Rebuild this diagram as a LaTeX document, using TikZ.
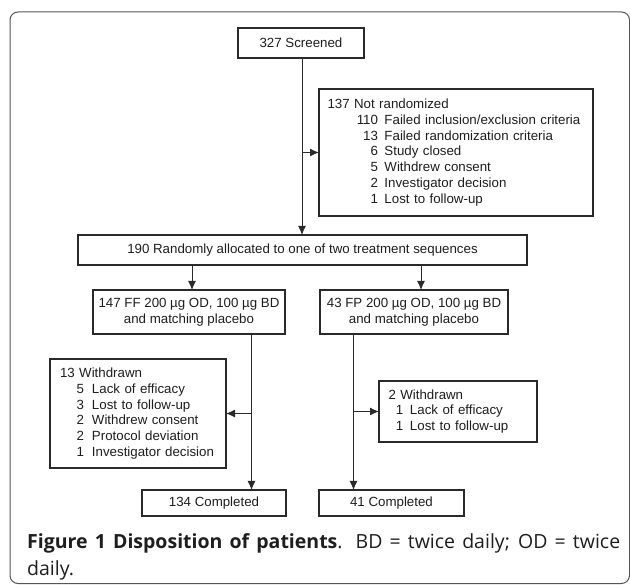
\documentclass[tikz,border=0pt]{standalone}
\usepackage{fontspec}
\setmainfont{Liberation Sans}
\newfontfamily\capfont{Open Sans}
\usetikzlibrary{arrows.meta}
\definecolor{linec}{HTML}{2A2A2A}
\definecolor{textc}{HTML}{1E1E1E}
\definecolor{framec}{HTML}{555555}
\newcommand{\dfont}{\fontsize{13.3}{15.8}\selectfont}
\newcommand{\nrline}[4]{\makebox[#1][r]{#3}\hspace{#2}#4}
\tikzset{
  box/.style={draw=linec, line width=1.1pt, inner sep=0pt, outer sep=0pt, font=\dfont, text=textc},
  listbox/.style={box, anchor=north west, align=left},
  arr/.style={draw=linec, line width=1pt, -{Latex[length=9pt,width=8pt]}},
  framebox/.style={draw=framec, line width=1pt, rounded corners=8pt}
}
\begin{document}
\begin{tikzpicture}[x=1pt, y=-1pt]
\useasboundingbox (0,0) rectangle (630,585);
\fill[white] (0,0) rectangle (630,585);
\draw[framebox] (10,12) rectangle (629.5,583.5);

\node[box, minimum width=126pt, minimum height=30pt] (scr) at (301,43) {327 Screened};

\node[listbox, text width=257pt, inner xsep=8.5pt, minimum height=127pt] (nr) at (319,89) {%
137 Not randomized\\
\nrline{50.5pt}{6.5pt}{110}{Failed inclusion/exclusion criteria}\\
\nrline{50.5pt}{6.5pt}{13}{Failed randomization criteria}\\
\nrline{50.5pt}{6.5pt}{6}{Study closed}\\
\nrline{50.5pt}{6.5pt}{5}{Withdrew consent}\\
\nrline{50.5pt}{6.5pt}{2}{Investigator decision}\\
\nrline{50.5pt}{6.5pt}{1}{Lost to follow-up}};

\node[box, minimum width=449pt, minimum height=30pt] (rand) at (302.5,250) {190 Randomly allocated to one of two treatment sequences};

\node[box, minimum width=192pt, minimum height=44pt, align=center] (ff) at (189,312) {147 FF 200 µg OD, 100 µg BD\\and matching placebo};
\node[box, minimum width=188pt, minimum height=44pt, align=center] (fp) at (414,312) {43 FP 200 µg OD, 100 µg BD\\and matching placebo};

\node[listbox, text width=156pt, inner xsep=10pt, minimum height=109pt] (lw) at (50,359) {%
13 Withdrawn\\
\nrline{24pt}{8pt}{5}{Lack of efficacy}\\
\nrline{24pt}{8pt}{3}{Lost to follow-up}\\
\nrline{24pt}{8pt}{2}{Withdrew consent}\\
\nrline{24pt}{8pt}{2}{Protocol deviation}\\
\nrline{24pt}{8pt}{1}{Investigator decision}};

\node[listbox, text width=139pt, inner xsep=9.5pt, minimum height=61pt] (rw) at (379,381) {%
2 Withdrawn\\
\nrline{14.7pt}{6.8pt}{1}{Lack of efficacy}\\
\nrline{14.7pt}{6.8pt}{1}{Lost to follow-up}};

\node[box, minimum width=144pt, minimum height=26pt] (c1) at (214,503) {134 Completed};
\node[box, minimum width=145pt, minimum height=26pt] (c2) at (391.5,503) {41 Completed};

\coordinate (tx) at (302,0);
\coordinate (a1) at (192,0);
\coordinate (a2) at (421,0);
\coordinate (l1) at (251.5,0);
\coordinate (r1) at (353.5,0);

\draw[arr] (scr.south -| tx) -- (rand.north -| tx);
\draw[arr] (tx |- nr.west) -- (nr.west);
\draw[arr] (rand.south -| a1) -- (ff.north -| a1);
\draw[arr] (rand.south -| a2) -- (fp.north -| a2);
\draw[arr] (ff.south -| l1) -- (c1.north -| l1);
\draw[arr] (l1 |- lw.east) -- (lw.east);
\draw[arr] (fp.south -| r1) -- (c2.north -| r1);
\draw[arr] (r1 |- rw.west) -- (rw.west);

\node[anchor=north west, inner sep=0pt, text width=593pt, align=justify,
      font=\capfont\fontsize{19.5}{27}\selectfont, text=textc] (cap) at (27,533)
  {\textbf{Figure 1 Disposition of patients}. BD = twice daily; OD = twice\linebreak daily.};
\end{tikzpicture}
\end{document}
